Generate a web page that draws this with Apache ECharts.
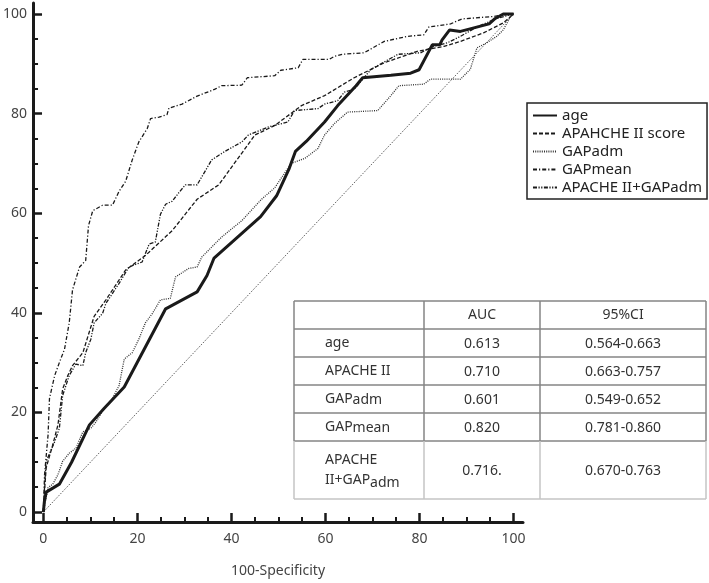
<!DOCTYPE html>
<html>
<head>
<meta charset="utf-8">
<script src="https://cdn.jsdelivr.net/npm/echarts@6/dist/echarts.min.js"></script>
<style>html,body{margin:0;padding:0;background:#fff;}#c{width:709px;height:583px;}</style>
</head>
<body>
<div id="c"></div>
<script>
// ---- data ----
const seriesNames = ['age', 'APAHCHE II score', 'GAPadm', 'GAPmean', 'APACHE II+GAPadm'];
const ageCurve = [[0,0],[0.2,2],[0.6,4],[3.4,5.6],[6,10],[9.8,17.5],[12.9,20.8],[17.2,25.1],[26,40.8],[32.7,44.2],[34.8,47.5],[36.3,51],[46.2,59.3],[49.6,63.5],[52.3,69],[53.6,72.4],[55.9,74.4],[59.8,78.3],[62.6,81.6],[66.5,85.6],[67.9,87.2],[73.9,87.7],[78.1,88.1],[79.9,88.8],[82.7,93.8],[84.3,93.8],[84.8,94.8],[86.4,96.8],[88.7,96.5],[94.8,98],[96.1,99.1],[97.8,100],[100,100]];
const apacheCurve = [[0,0],[0.3,5],[0.6,8.9],[2,13.5],[3.1,17.5],[4.1,24.7],[5.2,27.4],[6.2,29.4],[8.4,32],[10.8,39.3],[13.3,42.6],[17.5,48.6],[21.7,51.5],[27.4,56.5],[32.7,62.8],[37.3,65.7],[45,75.7],[49.2,77.6],[54.9,81.6],[59.8,83.6],[66.1,87.2],[72.5,90.2],[79.5,92.5],[85.2,93.5],[88.7,94.5],[93.6,96.2],[97.8,98.2],[100,100]];
const gapAdmCurve = [[0,0],[1,4.9],[2,5.6],[3.1,7.5],[4.1,10.2],[5.5,11.8],[6.9,12.8],[8.4,16.1],[10.1,16.8],[11.2,18.1],[12.9,20.8],[14.7,22.8],[16.1,25.4],[17.2,30.7],[18.9,32],[20.3,34.7],[21.7,38],[23.2,39.9],[24.9,42.6],[27,42.9],[28.1,47.2],[30.9,48.9],[32.7,49.2],[33.7,51.2],[37.9,55.2],[42.2,58.5],[46.4,62.8],[49.2,65.1],[52.7,70],[55.6,71],[58.4,73],[59.8,75.7],[61.9,78],[64.7,80.3],[71.1,80.6],[73.9,83.6],[75.6,85.6],[80.9,85.9],[82.3,86.9],[88.7,86.9],[90.8,88.9],[92.2,93.2],[94.3,94.2],[96.4,95.5],[97.8,96.8],[99.3,99.4],[100,100]];
const gapMeanCurve = [[0,0],[0.25,7.5],[1,15.5],[1.3,22.8],[2.4,27.4],[3.4,30],[4.5,32.7],[5.5,38],[6.2,44.6],[7.7,49.2],[9,50.5],[9.6,57.5],[10.5,60.5],[12.6,61.6],[14.7,61.6],[16.1,64.4],[17.5,66.4],[18.9,70.7],[20.3,74.3],[22.1,77],[22.8,79],[24.6,79.3],[26.3,79.8],[26.7,81.1],[29.5,81.9],[32.7,83.5],[36.5,84.9],[37.9,85.6],[42.2,85.7],[43.4,87.2],[49.2,87.6],[50.5,88.7],[54.2,89.2],[55.2,90.9],[60.8,90.9],[61.9,91.5],[63.7,91.9],[66.5,92.1],[68.2,92.2],[72.5,94.5],[77.4,95.5],[80.9,95.8],[82,97.4],[86.6,98],[89,99],[95.7,99.5],[99.3,100],[100,100]];
const comboCurve = [[0,0],[0.3,6],[0.6,10.2],[2.4,14.1],[3.4,16.8],[4.1,23.4],[5.5,27.4],[6.9,29.7],[8.4,29.4],[9,32],[10.1,34.7],[10.8,38],[12.6,39.9],[13.3,41.9],[16.1,45.9],[18.2,49.2],[21,50.2],[22.5,53.8],[23.8,54.2],[24.9,59.8],[26,61.8],[27.4,62.4],[28.8,64.1],[30.2,65.7],[32.7,65.7],[35.8,70.7],[38.6,72.4],[42.2,74.3],[43.6,75.7],[47.8,77.3],[52,78.3],[53.4,80.6],[58.4,81],[59.8,81.9],[62.6,82.6],[64,84.3],[66.1,84.9],[69.7,88.9],[75.4,91.9],[80.2,92.2],[83,93.5],[85.9,94.2],[88.7,95.5],[92.2,97.4],[96.4,99.1],[100,100]];
const diagonal = [[0,0],[100,100]];
const majorTicks = [0, 20, 40, 60, 80, 100];
const minorTicks = [5, 10, 15, 25, 30, 35, 45, 50, 55, 65, 70, 75, 85, 90, 95];
const xAxisName = '100-Specificity';
const tableHeader = ['', 'AUC', '95%CI'];
const tableLabels = ['age', 'APACHE II', 'GAP{s1|adm}', 'GAP{s1|mean}', 'APACHE\nII+GAP{s2|adm}'];
const aucValues = ['0.613', '0.710', '0.601', '0.820', '0.716.'];
const ciValues = ['0.564-0.663', '0.663-0.757', '0.549-0.652', '0.781-0.860', '0.670-0.763'];

// ---- styles ----
const FONT = '"Noto Sans", "Open Sans", sans-serif';
const ink = '#1a1a1a';
const lineStyles = [
  { color: ink, width: 3, type: 'solid' },
  { color: ink, width: 1.3, type: [4, 2] },
  { color: '#333', width: 1.3, type: [1, 1.2] },
  { color: ink, width: 1.3, type: [4, 2, 1.2, 2] },
  { color: ink, width: 1.3, type: [4, 1.5, 1.2, 1.5, 1.2, 1.5] }
];
const curves = [ageCurve, apacheCurve, gapAdmCurve, gapMeanCurve, comboCurve];

const chart = echarts.init(document.getElementById('c'));

const XMIN = -2.2, XMAX = 102, YMIN = -2, YMAX = 102.2;

function axisPair(dim) {
  const min = dim === 'x' ? XMIN : YMIN;
  const max = dim === 'x' ? XMAX : YMAX;
  const pos = dim === 'x' ? 'bottom' : 'left';
  const major = {
    type: 'value', min, max, position: pos,
    axisLine: { show: true, onZero: false, lineStyle: { color: ink, width: 3 } },
    axisTick: { show: true, inside: true, length: 9, customValues: majorTicks, lineStyle: { color: ink, width: 2.5 } },
    axisLabel: { show: true, customValues: majorTicks, color: '#444', fontSize: 14, fontFamily: FONT, margin: dim === 'x' ? 10 : 6 },
    splitLine: { show: false }
  };
  if (dim === 'x') {
    major.name = xAxisName;
    major.nameLocation = 'middle';
    major.nameGap = 42;
    major.nameTextStyle = { color: '#444', fontSize: 14, fontFamily: FONT };
  }
  const minor = {
    type: 'value', min, max, position: pos,
    axisLine: { show: false, onZero: false },
    axisTick: { show: true, inside: true, length: 5, customValues: minorTicks, lineStyle: { color: ink, width: 2 } },
    axisLabel: { show: false },
    splitLine: { show: false }
  };
  return [major, minor];
}

const series = [{
  type: 'line', name: 'diag', data: diagonal, xAxisIndex: 0, yAxisIndex: 0,
  symbol: 'none', silent: true, color: '#333',
  lineStyle: { color: '#333', width: 1, type: [1, 1.5] }, z: 1
}];
seriesNames.forEach((n, i) => {
  series.push({
    type: 'line', name: n, data: curves[i], xAxisIndex: 0, yAxisIndex: 0,
    color: ink, itemStyle: { color: ink, opacity: 0 },
    symbol: 'none', showSymbol: false, lineStyle: lineStyles[i], z: 2 + (i === 0 ? 5 : 0)
  });
});

// ---- table as graphic ----
const colEdges = [294, 424, 540, 706];
const rowEdges = [301, 329, 357, 385, 413, 441, 499];
const graphics = [];
const dark = '#858585', light = '#c4c4c4';
for (let r = 0; r < rowEdges.length; r++) {
  const c = r === rowEdges.length - 1 ? light : dark;
  graphics.push({ type: 'line', shape: { x1: colEdges[0], y1: rowEdges[r], x2: colEdges[3], y2: rowEdges[r] }, style: { stroke: c, lineWidth: 1.5 } });
}
for (let k = 0; k < colEdges.length; k++) {
  graphics.push({ type: 'line', shape: { x1: colEdges[k], y1: rowEdges[0], x2: colEdges[k], y2: rowEdges[5] }, style: { stroke: dark, lineWidth: 1.5 } });
  graphics.push({ type: 'line', shape: { x1: colEdges[k], y1: rowEdges[5], x2: colEdges[k], y2: rowEdges[6] }, style: { stroke: light, lineWidth: 1.5 } });
}
const txt = '#333';
const rich = {
  s1: { fontSize: 14, fontFamily: FONT, fill: txt, padding: [3, 0, 0, 0] },
  s2: { fontSize: 14, fontFamily: FONT, fill: txt, padding: [6, 0, 0, 0] }
};
function cellText(text, x, y, align) {
  return { type: 'text', style: { text, x, y, align, verticalAlign: 'middle', fontSize: 14, fontFamily: FONT, fill: txt, rich, lineHeight: 20 }, z: 10 };
}
for (let c = 1; c < 3; c++) {
  graphics.push(cellText(tableHeader[c], (colEdges[c] + colEdges[c + 1]) / 2, (rowEdges[0] + rowEdges[1]) / 2, 'center'));
}
for (let r = 0; r < tableLabels.length; r++) {
  const cy = (rowEdges[r + 1] + rowEdges[r + 2]) / 2;
  graphics.push(cellText(tableLabels[r], 325, cy, 'left'));
  graphics.push(cellText(aucValues[r], (colEdges[1] + colEdges[2]) / 2, cy + 1, 'center'));
  graphics.push(cellText(ciValues[r], (colEdges[2] + colEdges[3]) / 2, cy + 1, 'center'));
}

const xa = axisPair('x'), ya = axisPair('y');
chart.setOption({
  animation: false,
  backgroundColor: '#fff',
  grid: { left: 30, top: 3, width: 493, height: 525, containLabel: false },
  xAxis: xa,
  yAxis: ya,
  legend: {
    data: seriesNames,
    orient: 'vertical', left: 527, top: 103,
    padding: [5, 5, 4, 5],
    itemGap: 3, itemWidth: 24, itemHeight: 12,
    borderColor: '#222', borderWidth: 1.5, borderRadius: 0,
    backgroundColor: '#fff',
    itemStyle: { opacity: 0, borderWidth: 0 },
    textStyle: { color: '#222', fontSize: 15, fontFamily: FONT },
    selectedMode: false
  },
  series,
  graphic: graphics
});
</script>
</body>
</html>
